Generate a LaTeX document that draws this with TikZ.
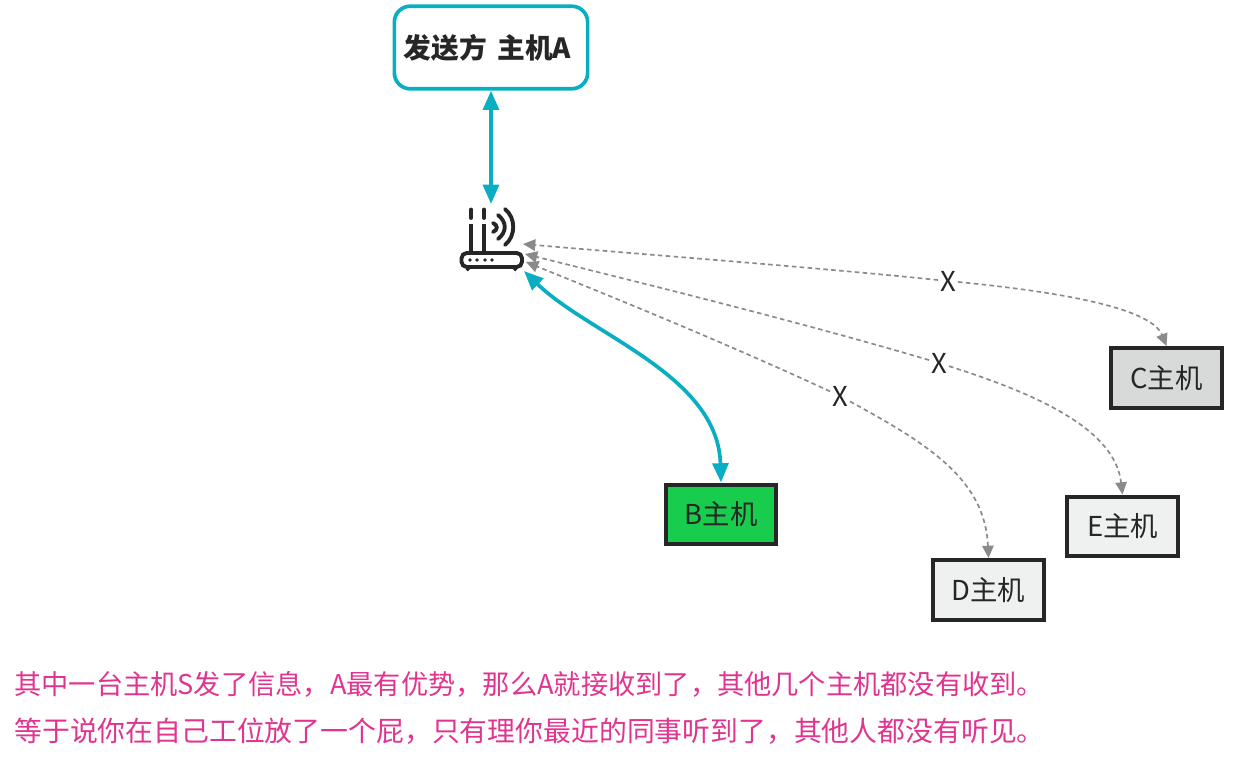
\documentclass[tikz,border=0pt]{standalone}
\usepackage{fontspec}
\setmainfont{Noto Sans CJK SC}
\usepackage{tikz}
\usetikzlibrary{arrows.meta}
\definecolor{tealc}{HTML}{0AAEC2}
\definecolor{darkc}{HTML}{262626}
\definecolor{greyc}{HTML}{8A8A8A}
\definecolor{pinkc}{HTML}{E0358F}
\definecolor{greenb}{HTML}{18CC4E}
\definecolor{greyhost}{HTML}{D8DADA}
\definecolor{palehost}{HTML}{EFF1F1}
\tikzset{
  host/.style={draw=darkc, line width=2.4pt, text=darkc, minimum width=63pt, minimum height=34pt, font=\fontsize{15.6pt}{18pt}\selectfont, inner sep=0pt},
  sync/.style={tealc, line width=2.1pt, {Triangle[length=11pt,width=9pt]}-{Triangle[length=11pt,width=9pt]}},
  lost/.style={greyc, line width=0.95pt, dash pattern=on 2.6pt off 1.9pt, -{Triangle[length=7pt,width=6.5pt]}},
  mark x/.style={fill=white, text=darkc, inner sep=1pt, font=\fontsize{15.6pt}{18pt}\selectfont},
  note/.style={anchor=west, text=pinkc, inner sep=0pt, font=\fontsize{15.85pt}{18pt}\selectfont},
  icon/.style={darkc, line width=2.2pt}
}
\begin{document}
\begin{tikzpicture}[x=0.02cm, y=-0.02cm]
\useasboundingbox (0,0) rectangle (1234,768);
\node[draw=tealc, line width=2.1pt, rounded corners=9pt, minimum width=110pt, minimum height=47pt, inner sep=0pt, text=darkc, font=\fontsize{15.8pt}{18pt}\selectfont\bfseries] (sender) at (491,47.5) {发送方\hspace{0.15em} 主机A\hspace{4pt}\mbox{}};
\node[host, fill=greenb] (hostb) at (721,514.5) {B主机};
\node[host, fill=greyhost] (hostc) at (1166.5,378) {C主机};
\node[host, fill=palehost] (hoste) at (1122.5,526.5) {E主机};
\node[host, fill=palehost] (hostd) at (988.5,590) {D主机};
% router icon
\coordinate (routertop) at (491,204);
\coordinate (routerc) at (523,244);
\coordinate (routere) at (525,254);
\coordinate (routerd) at (526,262);
\coordinate (routerb) at (524,271);
\draw[icon, line cap=round] (471,209.5) -- (471,218);
\draw[icon, line cap=round] (484,209.5) -- (484,218);
\draw[icon] (471,224) -- (471,252);
\draw[icon] (484,224) -- (484,252);
\draw[icon, rounded corners=3pt] (461.5,253) rectangle (522,267);
\draw[icon, line cap=round] (493,223) .. controls (498,225) and (498,230) .. (493,232);
\draw[icon, line cap=round] (498,215) .. controls (507,222) and (507,232) .. (498,239);
\draw[icon, line cap=round] (505,209) .. controls (516,218) and (516,236) .. (505,245);
\draw[icon] (467,268) -- (469,270);
\draw[icon] (516,268) -- (514,270);
\foreach \px in {470,477,485,492} {
  \fill[darkc] (\px,260) circle (1.9);
}
% links
\draw[sync] (sender.south) -- (routertop);
\draw[sync] (routerb) .. controls (590,335) and (718,375) .. (hostb.north);
\node[mark x] (xc) at (948,281) {X};
\node[mark x] (xe) at (939,363) {X};
\node[mark x] (xd) at (840,396) {X};
\draw[lost] (xc) .. controls (800,266) and (650,255) .. (routerc);
\draw[lost] (xc) .. controls (1040,290) and (1150,305) .. (hostc.north);
\draw[lost] (xe) .. controls (800,322) and (650,285) .. (routere);
\draw[lost] (xe) .. controls (1040,395) and (1115,430) .. (hoste.north);
\draw[lost] (xd) .. controls (730,345) and (620,300) .. (routerd);
\draw[lost] (xd) .. controls (930,445) and (985,480) .. (hostd.north);
% notes
\node[note, font=\fontsize{15.5pt}{18pt}\selectfont] (note1) at (14,684) {其中一台主机S发了信息，A最有优势，那么A就接收到了，其他几个主机都没有收到。};
\node[note] (note2) at (14,731) {等于说你在自己工位放了一个屁，只有理你最近的同事听到了，其他人都没有听见。};
\end{tikzpicture}
\end{document}
